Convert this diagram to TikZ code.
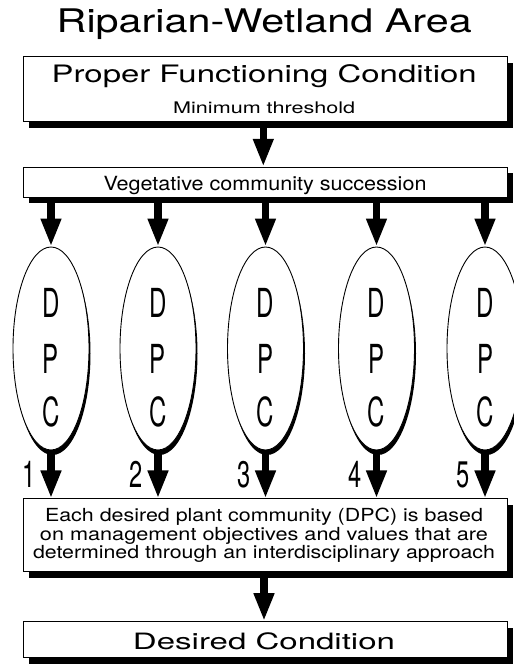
\documentclass[tikz,border=0pt]{standalone}
\usepackage{fontspec}
\setmainfont{TeX Gyre Heros}
\usetikzlibrary{shapes.geometric,shadows,arrows.meta}
\newcommand\fitt[3]{\resizebox{#1}{\height}{\fontsize{#2}{#2}\selectfont #3}}
\newcommand\cond[3]{\scalebox{#1}[1]{\fontsize{#2}{#2}\selectfont #3}}
\tikzset{
  boxsh/.style={draw=black, line width=1pt, fill=white, rectangle, inner sep=0pt,
    minimum width=484pt,
    drop shadow={shadow xshift=6pt, shadow yshift=-6pt, fill=black, opacity=1}},
  dpc/.style={draw=black, line width=0.9pt, fill=white, ellipse, inner sep=0pt,
    minimum width=76pt, minimum height=203pt,
    drop shadow={shadow xshift=1.5pt, shadow yshift=-5pt, fill=black, opacity=1}},
  txt/.style={anchor=base, inner sep=0pt, outer sep=0pt},
  bigarrow/.style={line width=7.5pt, -{Triangle[width=19pt,length=28pt]}}
}
\begin{document}
\begin{tikzpicture}[x=1pt,y=-1pt]
\useasboundingbox (0,0) rectangle (514,664);
% title
\node[txt] (title) at (264.2,32.5) {\fitt{415pt}{32.5}{Riparian-Wetland Area}};
% box 1
\node[boxsh, minimum height=65pt] (pfc) at (265.3,89.2) {};
\node[txt] (pfct) at (264.2,82.3) {\fitt{425pt}{24}{Proper Functioning Condition}};
\node[txt] (mint) at (264.2,113.3) {\fitt{182pt}{16}{Minimum threshold}};
% box 2
\node[boxsh, minimum height=30pt] (veg) at (265.3,182.3) {};
\node[txt] (vegt) at (265,190) {\fitt{323pt}{19.5}{Vegetative community succession}};
% box 3
\node[boxsh, minimum height=72.7pt] (each) at (265.3,535.3) {};
\node[txt] (e1t) at (264,521.7) {\fitt{438pt}{18}{Each desired plant community (DPC) is based}};
\node[txt] (e2t) at (264,540) {\fitt{448pt}{18}{on management objectives and values that are}};
\node[txt] (e3t) at (264,558.3) {\fitt{462pt}{18}{determined through an interdisciplinary approach}};
% box 4
\node[boxsh, minimum height=36.3pt] (des) at (265.3,639.8) {};
\node[txt] (dest) at (264,649) {\fitt{262pt}{22.5}{Desired Condition}};
% arrows between boxes
\draw[bigarrow] (pfc.south -| 263.3,0) -- (veg.north -| 263.3,0);
\draw[bigarrow] (each.south -| 264,0) -- (des.north -| 264,0);
% ellipses
\foreach \i/\x in {1/51,2/158,3/265.5,4/376.5,5/485}{
  \node[dpc] (el\i) at (\x,348.5) {};
  \node[txt] (d\i) at (\x,317) {\cond{0.6}{40}{D}};
  \node[txt] (p\i) at (\x,373) {\cond{0.6}{40}{P}};
  \node[txt] (c\i) at (\x,426) {\cond{0.6}{40}{C}};
  \node[txt] (n\i) at (\x-21.5,487) {\cond{0.64}{37}{\i}};
  \draw[bigarrow] (veg.south -| el\i.north) -- (el\i.north);
  \draw[bigarrow] (el\i.south) -- (el\i.south |- each.north);
}
\end{tikzpicture}
\end{document}
